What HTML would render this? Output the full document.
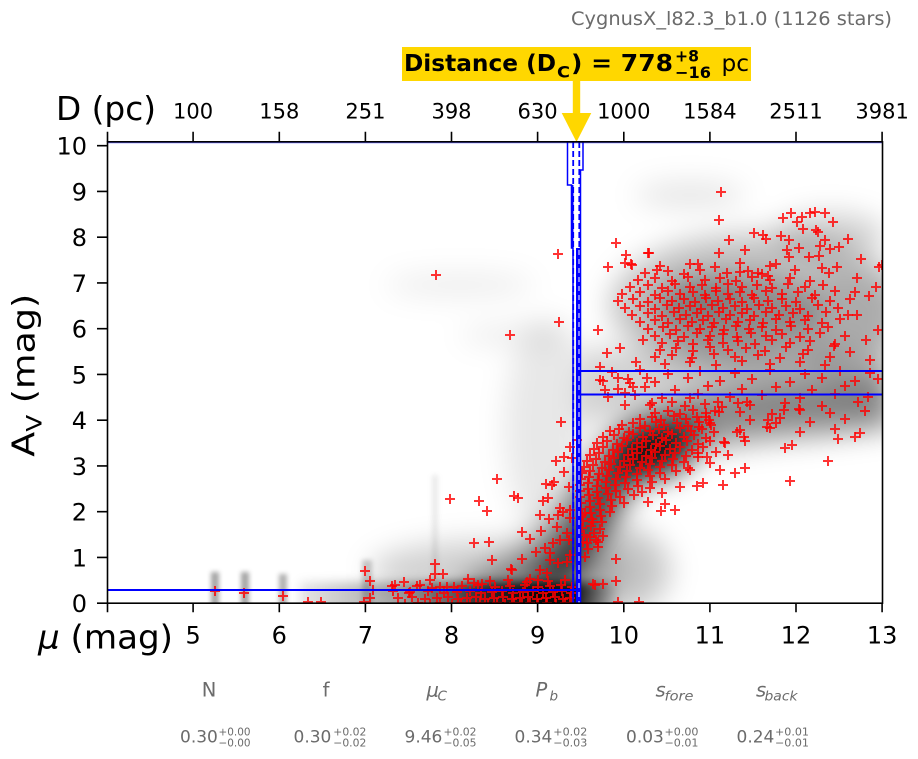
<!DOCTYPE html>
<html><head><meta charset="utf-8"><style>
html,body{margin:0;padding:0;background:#fff;}
svg{display:block;font-family:"DejaVu Sans","Liberation Sans",sans-serif;}
</style></head><body>
<svg width="918" height="759" viewBox="0 0 918 759" xmlns="http://www.w3.org/2000/svg">
<defs>
<clipPath id="pc"><rect x="107.5" y="142" width="775" height="461.2"/></clipPath>
<filter id="f1" filterUnits="userSpaceOnUse" x="0" y="0" width="918" height="759"><feGaussianBlur stdDeviation="14"/></filter>
<filter id="f2" filterUnits="userSpaceOnUse" x="0" y="0" width="918" height="759"><feGaussianBlur stdDeviation="5"/></filter>
<filter id="f3" filterUnits="userSpaceOnUse" x="0" y="0" width="918" height="759"><feGaussianBlur stdDeviation="2.5"/></filter>
<linearGradient id="bb" gradientUnits="userSpaceOnUse" x1="300" y1="0" x2="620" y2="0">
<stop offset="0" stop-color="#000" stop-opacity="0.1"/>
<stop offset="0.31" stop-color="#000" stop-opacity="0.35"/>
<stop offset="0.56" stop-color="#000" stop-opacity="0.7"/>
<stop offset="0.75" stop-color="#000" stop-opacity="0.95"/>
<stop offset="0.86" stop-color="#000" stop-opacity="0.9"/>
<stop offset="0.94" stop-color="#000" stop-opacity="0.4"/>
<stop offset="1" stop-color="#000" stop-opacity="0"/>
</linearGradient>
<marker id="m" markerUnits="userSpaceOnUse" markerWidth="14" markerHeight="14" refX="7" refY="7" overflow="visible"><path d="M2 7h10M7 2v10" stroke="#ff0000" stroke-opacity="0.8" stroke-width="2" fill="none"/></marker>
</defs>

<!-- title -->
<text x="571" y="25" font-size="19" fill="#6b6b6b" textLength="321" lengthAdjust="spacingAndGlyphs">CygnusX_l82.3_b1.0 (1126 stars)</text>

<!-- distance box -->
<rect x="402" y="47" width="349" height="34" fill="#FFD700"/>
<text x="404" y="71" font-size="23.5" font-weight="bold" fill="#000" textLength="152" lengthAdjust="spacingAndGlyphs">Distance (D</text>
<text x="557" y="77.5" font-size="16" font-weight="bold" fill="#000" textLength="13" lengthAdjust="spacingAndGlyphs">C</text>
<text x="571" y="71" font-size="23.5" font-weight="bold" fill="#000" textLength="102" lengthAdjust="spacingAndGlyphs">) = 778</text>
<text x="675" y="61.5" font-size="16" font-weight="bold" fill="#000" textLength="24" lengthAdjust="spacingAndGlyphs">+8</text>
<text x="675" y="78" font-size="16" font-weight="bold" fill="#000" textLength="36" lengthAdjust="spacingAndGlyphs">−16</text>
<text x="721.5" y="71" font-size="23.5" fill="#000" textLength="27.5" lengthAdjust="spacingAndGlyphs">pc</text>
<!-- arrow -->
<rect x="572.8" y="81" width="7.4" height="33" fill="#FFD700"/>
<polygon points="561.7,113 591.3,113 576.5,142" fill="#FFD700"/>

<!-- axis labels -->
<text x="56" y="120" font-size="33" fill="#000" textLength="100" lengthAdjust="spacingAndGlyphs">D (pc)</text>
<text x="38" y="648.5" font-size="33" fill="#000" textLength="135" lengthAdjust="spacingAndGlyphs"><tspan font-style="italic">μ</tspan> (mag)</text>
<text transform="translate(34.3,456.7) rotate(-90)" font-size="31" fill="#000" textLength="163" lengthAdjust="spacingAndGlyphs">A<tspan font-size="21" dy="7">V</tspan><tspan dy="-7"> (mag)</tspan></text>

<!-- top tick labels -->
<g font-size="21" fill="#000" text-anchor="middle">
<text x="193.1" y="118.3">100</text>
<text x="279.3" y="118.3">158</text>
<text x="365.4" y="118.3">251</text>
<text x="451.5" y="118.3">398</text>
<text x="537.6" y="118.3">630</text>
<text x="623.8" y="118.3">1000</text>
<text x="709.9" y="118.3">1584</text>
<text x="796" y="118.3">2511</text>
<text x="882.1" y="118.3">3981</text>
</g>
<!-- bottom tick labels -->
<g font-size="24" fill="#000" text-anchor="middle">
<text x="193.1" y="643.3">5</text>
<text x="279.3" y="643.3">6</text>
<text x="365.4" y="643.3">7</text>
<text x="451.5" y="643.3">8</text>
<text x="537.6" y="643.3">9</text>
<text x="623.8" y="643.3">10</text>
<text x="709.9" y="643.3">11</text>
<text x="796" y="643.3">12</text>
<text x="882.1" y="643.3">13</text>
</g>
<!-- y tick labels -->
<g font-size="24" fill="#000" text-anchor="end">
<text x="87" y="612">0</text>
<text x="87" y="566.3">1</text>
<text x="87" y="520.5">2</text>
<text x="87" y="474.8">3</text>
<text x="87" y="429">4</text>
<text x="87" y="383.3">5</text>
<text x="87" y="337.5">6</text>
<text x="87" y="291.8">7</text>
<text x="87" y="246">8</text>
<text x="87" y="200.3">9</text>
<text x="87" y="154.5">10</text>
</g>

<!-- density background -->
<g clip-path="url(#pc)">
<g filter="url(#f1)" fill="#000">
<ellipse cx="760" cy="305" rx="150" ry="72" fill-opacity="0.24"/>
<ellipse cx="735" cy="312" rx="85" ry="38" fill-opacity="0.28"/>
<ellipse cx="700" cy="300" rx="40" ry="20" fill-opacity="0.15"/>
<ellipse cx="830" cy="235" rx="55" ry="22" fill-opacity="0.18"/>
<ellipse cx="690" cy="195" rx="55" ry="13" fill-opacity="0.10"/>
<ellipse cx="460" cy="285" rx="75" ry="12" fill-opacity="0.07"/>
<ellipse cx="520" cy="335" rx="60" ry="10" fill-opacity="0.08"/>
<rect x="580" y="350" width="310" height="70" fill-opacity="0.18"/>
<ellipse cx="545" cy="430" rx="40" ry="110" fill-opacity="0.09"/>
<ellipse cx="850" cy="330" rx="50" ry="60" fill-opacity="0.12"/>
<path d="M470 604 C540 585 570 540 600 495 S660 430 720 420 S830 410 890 400" stroke="#000" stroke-opacity="0.38" stroke-width="55" fill="none"/>
<path d="M540 590 C570 570 590 520 610 485 S660 440 700 430" stroke="#000" stroke-opacity="0.6" stroke-width="32" fill="none"/>
<ellipse cx="650" cy="452" rx="40" ry="26" fill-opacity="0.8"/>
<ellipse cx="500" cy="570" rx="130" ry="30" fill-opacity="0.18"/>
<ellipse cx="615" cy="570" rx="55" ry="45" fill-opacity="0.22"/>
</g>
<g filter="url(#f2)">
<rect x="300" y="582" width="320" height="30" fill="url(#bb)"/>
</g>
<g filter="url(#f3)" fill="#000">
<rect x="211" y="572" width="8" height="40" fill-opacity="0.35"/>
<rect x="241" y="572" width="8" height="40" fill-opacity="0.35"/>
<rect x="279" y="574" width="8" height="40" fill-opacity="0.3"/>
<rect x="362" y="560" width="10" height="50" fill-opacity="0.2"/>
<rect x="432" y="475" width="6" height="130" fill-opacity="0.08"/>
</g>

<!-- red crosses -->
<g fill="none" stroke="none" marker-start="url(#m)" marker-mid="url(#m)" marker-end="url(#m)">
<polyline points="215,591 244,593 283,596 308,602 321,602 365,571 370,581 373,590 370,598 364,602 435,564 435,574 443,574 393,591 395,585 404,582 409,593 417,586 432,588 447,587 454,587 474,583 482,584 497,479 450,499 479,501 487,511 514,496 518,498 522,532 474,543 489,542 492,560 522,559 511,569 436,275 510,335 530,539 536,552 541,531 543,501 548,498 540,515 549,519 556,461 564,457 564,472 561,422 546,484 552,485 554,482 569,487 560,508 563,512 570,510 558,515 570,518 557,527 567,533 560,540 553,543 569,540 545,548 550,553 550,560 570,555 558,563 567,562 540,570 547,573 538,580 527,582 512,570 570,447 577,440 572,458"/>
<polyline points="558,254 559,322 598,330 616,243 626,255 631,264 608,267 648,253 657,270 721,192 719,220 783,218 791,213 802,217 815,212 833,222 816,230 818,232 729,240 745,250 754,233 763,235 766,239 781,236 789,240 787,250 799,248 789,257 809,257 819,256 825,240 830,249 839,247 848,239 861,259 822,268 829,273 837,267 857,278 876,287 879,267 625,263 632,265 698,264 776,264 740,272 758,273 768,276 719,253 649,253 810,213 825,213 797,222 803,229 820,246 855,292 869,296 857,315 866,340 878,330 850,352 870,360 834,346 882,265"/>
<polyline points="600,367 600,380 605,390 607,353 618,378 620,348 636,362 630,383 633,387 643,340 625,393 647,378 612,372 640,370 668,374 700,371 735,373 770,370 805,374 840,371 870,373 603,381 628,379 655,382 688,378 720,381 752,379 790,382 822,378 855,381 878,379 618,389 645,387 675,390 708,386 742,389 776,387 812,390 845,386 608,397 635,395 662,398 698,394 730,397 762,395 800,398 835,394 868,397 625,405 652,403 685,406 718,402 750,405 785,403 822,406 858,402"/>
<polyline points="740,412 772,414 800,410 830,413 865,411 750,420 780,418 810,422 845,419 740,430 770,428 800,432 835,429 860,433 745,441 785,448 838,439 792,445 855,437 828,461 790,481 768,420 776,423 784,410 799,409 767,427 737,432 744,437 724,442 719,412 722,407 738,403 747,402 706,417 699,427 710,423 725,443 735,473 745,468 723,485 703,483 697,486 680,487 675,510 661,511 665,504 648,502 662,493 650,488 710,463 707,457 698,457 690,470 720,470 716,452 728,455 650,405 672,402 690,398 705,404"/>
<polyline points="655,413 668,411 680,414 693,410 706,413 715,411 640,419 652,417 661,420 674,416 686,419 697,417 709,420 622,425 633,423 645,426 656,422 664,425 677,423 688,426 699,422 711,425 610,431 619,429 629,432 640,428 650,431 659,429 668,432 680,428 691,431 702,429 714,432 603,437 614,435 624,438 633,434 643,437 653,435 662,438 672,434 684,437 694,435 706,438 597,443 607,441 617,444 627,440 637,443 646,441 656,444 666,440 676,443 687,441 698,444 710,441 594,449 603,447 613,450 622,446 632,449 642,447 651,450 660,446 670,449 680,447 692,450 703,447"/>
<polyline points="590,455 599,453 609,456 618,452 628,455 637,453 646,456 655,452 665,455 675,453 686,456 698,453 587,461 596,459 605,462 614,458 624,461 633,459 642,462 652,458 662,461 673,459 684,462 584,467 593,465 602,468 611,464 620,467 630,465 640,468 650,464 660,467 672,465 688,468 582,473 590,471 599,474 609,470 618,473 627,471 637,474 648,470 660,473 676,471 581,479 589,477 598,480 607,476 616,479 626,477 637,480 650,476 665,479 580,485 588,483 597,486 606,482 615,485 625,483 638,486 652,482"/>
<polyline points="580,491 588,489 597,492 606,488 616,491 628,489 642,492 580,497 589,495 598,498 608,494 620,497 634,495 581,503 590,501 600,504 611,500 624,503 581,509 590,507 600,510 612,506 582,515 591,513 601,516 610,512 583,521 592,519 602,522 582,528 591,526 600,529 584,535 594,533 603,536 583,542 596,540 588,549 598,547 585,557 593,584 603,584 616,581 618,602 639,602 616,559 595,585 587,543 590,537 598,542 593,522 585,513"/>
<polyline points="660,266 690,264 715,267 740,263 770,266 645,273 668,271 684,274 700,270 727,273 748,271 762,274 795,270 638,280 655,278 672,281 688,277 705,280 720,278 736,281 752,277 770,280 790,278 810,281 630,287 648,285 662,288 675,284 690,287 702,285 716,288 728,284 742,287 757,285 772,288 788,284 805,287 823,285 622,294 640,292 655,295 668,291 680,294 693,292 705,295 716,291 728,294 740,292 752,295 766,291 782,294 798,292 815,295 835,291"/>
<polyline points="618,301 633,299 648,302 660,298 672,301 684,299 695,302 706,298 718,301 730,299 742,302 754,298 768,301 782,299 796,302 812,298 830,301 850,299 625,308 640,306 655,309 667,305 679,308 690,306 701,309 712,305 723,308 735,306 747,309 759,305 772,308 786,306 800,309 818,305 838,308 632,315 648,313 662,316 674,312 686,315 697,313 708,316 719,312 730,315 742,313 754,316 766,312 779,315 793,313 808,316 826,312 848,315"/>
<polyline points="640,322 655,320 668,323 680,319 692,322 703,320 714,323 726,319 738,322 750,320 763,323 776,319 790,322 805,320 822,323 840,319 648,329 663,327 676,330 688,326 700,329 712,327 724,330 736,326 749,329 762,327 776,330 791,326 808,329 828,327 655,336 670,334 684,337 697,333 710,336 723,334 737,337 751,333 766,336 782,334 800,337 820,333 845,336"/>
<polyline points="662,343 678,341 693,344 708,340 723,343 738,341 755,344 772,340 790,343 810,341 835,344 660,350 676,348 693,351 710,347 728,350 746,348 765,351 786,347 808,350 655,357 672,355 692,358 714,354 735,357 758,355 780,358 803,354 830,357 665,364 690,362 716,365 742,361 770,364 800,362 825,365"/>
<polyline points="405,604 418,603 430,604 440,603 452,604 461,603 470,604 480,603 488,604 497,603 505,604 514,603 522,604 530,603 538,604 547,603 556,604 565,603 572,604 398,598 412,597 425,599 437,598 448,597 458,599 467,598 476,597 485,599 494,598 503,597 512,599 520,598 528,597 537,599 546,598 555,597 563,599 570,598"/>
<polyline points="410,592 428,591 444,593 457,592 470,591 481,593 492,592 502,591 513,593 523,592 533,591 543,593 553,592 562,591 571,593 392,586 420,585 440,587 462,586 478,585 495,587 510,586 525,585 538,587 550,586 561,585 572,587 430,580 468,579 490,581 508,580 530,579 548,581 565,580"/>
</g>

<!-- blue histogram & lines -->
<polygon points="567.5,142 583,142 583,170 580.5,170 580.5,248 571.5,248 571.5,185 567.5,185" fill="#fff"/>
<path d="M567.5 142V185H571.5V248H573V604M583 142V170H580.5V604" stroke="#0000ff" stroke-width="1.5" fill="none"/>
<line x1="572.2" y1="185" x2="572.2" y2="248" stroke="#0000ff" stroke-width="2.5"/>
<rect x="576" y="248" width="5" height="356" fill="#0000ff"/>
<line x1="573.2" y1="142" x2="573.2" y2="604" stroke="#0000ff" stroke-width="1.8" stroke-dasharray="6 3"/>
<line x1="579.3" y1="142" x2="579.3" y2="248" stroke="#0000ff" stroke-width="1.8" stroke-dasharray="6 3"/>
<line x1="579" y1="250" x2="579" y2="604" stroke="#d0d0ff" stroke-width="1.2" stroke-dasharray="5 4"/>
<line x1="107.5" y1="590" x2="577" y2="590" stroke="#0000ff" stroke-width="2"/>
<line x1="576" y1="371" x2="882.5" y2="371" stroke="#0000ff" stroke-width="2"/>
<line x1="578" y1="394.5" x2="882.5" y2="394.5" stroke="#0000ff" stroke-width="2"/>
<line x1="107.5" y1="142.8" x2="882.5" y2="142.8" stroke="#0000ff" stroke-width="1" stroke-opacity="0.6"/>
</g>

<!-- frame -->
<rect x="107.5" y="141.8" width="775" height="461.4" fill="none" stroke="#000" stroke-width="1.6"/>
<!-- ticks -->
<path d="M107.5 603.2v9M193.1 603.2v9M279.3 603.2v9M365.4 603.2v9M451.5 603.2v9M537.6 603.2v9M623.8 603.2v9M709.9 603.2v9M796 603.2v9M882.1 603.2v9
M107.5 141.8v-10M193.1 141.8v-10M279.3 141.8v-10M365.4 141.8v-10M451.5 141.8v-10M537.6 141.8v-10M623.8 141.8v-10M709.9 141.8v-10M796 141.8v-10M882.1 141.8v-10
M97 603.2h10.5M97 557.45h10.5M97 511.7h10.5M97 465.95h10.5M97 420.2h10.5M97 374.45h10.5M97 328.7h10.5M97 282.95h10.5M97 237.2h10.5M97 191.45h10.5M97 145.7h10.5" stroke="#000" stroke-width="1.6" fill="none"/>

<!-- parameter labels -->
<g fill="#6b6b6b">
<text x="209" y="696.7" font-size="19.5" text-anchor="middle">N</text>
<text x="326" y="696.7" font-size="19.5" text-anchor="middle">f</text>
<text x="426.5" y="696.7" font-size="19.5" font-style="italic">μ</text>
<text x="437.5" y="700.5" font-size="13.5" font-style="italic">C</text>
<text x="535.5" y="696.7" font-size="19.5" font-style="italic">P</text>
<text x="549.5" y="700.5" font-size="13.5" font-style="italic">b</text>
<text x="655.5" y="696.7" font-size="19.5" font-style="italic">s</text>
<text x="664.5" y="700.5" font-size="13.5" font-style="italic" textLength="29" lengthAdjust="spacingAndGlyphs">fore</text>
<text x="756" y="696.7" font-size="19.5" font-style="italic">s</text>
<text x="764.5" y="700.5" font-size="13.5" font-style="italic" textLength="33" lengthAdjust="spacingAndGlyphs">back</text>

<g font-size="17">
<text x="180" y="742.5">0.30</text>
<text x="293.5" y="742.5">0.30</text>
<text x="404.5" y="742.5">9.46</text>
<text x="514.5" y="742.5">0.34</text>
<text x="626" y="742.5">0.03</text>
<text x="736.5" y="742.5">0.24</text>
</g>
<g font-size="11">
<text x="218.5" y="735.5" textLength="32" lengthAdjust="spacingAndGlyphs">+0.00</text>
<text x="218.5" y="746.5" textLength="32" lengthAdjust="spacingAndGlyphs">−0.00</text>
<text x="333.3" y="735.5" textLength="33" lengthAdjust="spacingAndGlyphs">+0.02</text>
<text x="333.3" y="746.5" textLength="33" lengthAdjust="spacingAndGlyphs">−0.02</text>
<text x="443.5" y="735.5" textLength="33" lengthAdjust="spacingAndGlyphs">+0.02</text>
<text x="443.5" y="746.5" textLength="33" lengthAdjust="spacingAndGlyphs">−0.05</text>
<text x="553.3" y="735.5" textLength="34" lengthAdjust="spacingAndGlyphs">+0.02</text>
<text x="553.3" y="746.5" textLength="34" lengthAdjust="spacingAndGlyphs">−0.03</text>
<text x="664.5" y="735.5" textLength="34" lengthAdjust="spacingAndGlyphs">+0.00</text>
<text x="664.5" y="746.5" textLength="34" lengthAdjust="spacingAndGlyphs">−0.01</text>
<text x="775" y="735.5" textLength="34" lengthAdjust="spacingAndGlyphs">+0.01</text>
<text x="775" y="746.5" textLength="34" lengthAdjust="spacingAndGlyphs">−0.01</text>
</g>
</g>
</svg>
</body></html>
